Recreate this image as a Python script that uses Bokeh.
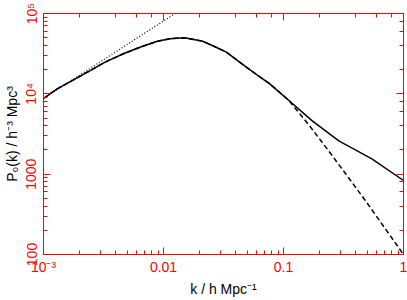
from bokeh.plotting import figure
from bokeh.models import LogAxis, Range1d
from bokeh.embed import file_html
from bokeh.resources import INLINE

# Non-linear (solid) power spectrum
k_nl = [0.001, 0.0013, 0.00178, 0.00245, 0.00326, 0.00463, 0.00636, 0.00875,
        0.0113, 0.0128, 0.015, 0.0212, 0.0266, 0.0334, 0.049, 0.0604, 0.076,
        0.111, 0.1736, 0.289, 0.545, 1.0]
P_nl = [8750, 11550, 14950, 19500, 24800, 31500, 38000, 44800,
        48400, 49300, 49800, 45200, 38800, 33000, 21500, 17150, 13500,
        8260, 4600, 2600, 1550, 834]

# Linear (dashed) power spectrum
k_lin = [0.001, 0.0013, 0.00178, 0.00245, 0.00326, 0.00463, 0.00636, 0.00875,
         0.0113, 0.0128, 0.015, 0.0212, 0.0266, 0.0334, 0.049, 0.0604, 0.076,
         0.111, 0.1346, 0.1683, 0.2541, 0.4808, 1.0]
P_lin = [8750, 11550, 14950, 19500, 24800, 31500, 38000, 44800,
         48400, 49300, 49800, 45200, 38800, 33000, 21500, 17150, 13500,
         8260, 5810, 3842, 1708, 470, 100]

# Primordial power law (dotted)
k_pl = [0.001, 0.0125]
P_pl = [8750, 100000]

x_tick_values = [0.001, 0.01, 0.1, 1]
x_tick_labels = ["10\u207b\u00b3", "0.01", "0.1", "1"]
y_tick_values = [100, 1000, 10000, 100000]
y_tick_labels = ["100", "1000", "10\u2074", "10\u2075"]

x_title = "k / h Mpc\u207b\u00b9"
y_title = "P\u2080(k) / h\u207b\u00b3 Mpc\u00b3"

RED = "#ff0000"
FONT = "Liberation Sans"

p = figure(width=407, height=300, x_axis_type="log", y_axis_type="log",
           x_range=Range1d(1e-3, 1), y_range=Range1d(100, 1e5),
           output_backend="svg", toolbar_location=None,
           min_border_left=43, min_border_right=4, min_border_top=13,
           min_border_bottom=46)
p.grid.visible = False
p.outline_line_color = RED
p.outline_line_width = 1
p.background_fill_color = "white"
p.border_fill_color = "white"

p.line(k_nl, P_nl, line_color="black", line_width=1.5)
p.line(k_lin, P_lin, line_color="black", line_width=1.5, line_dash="5 3")
p.line(k_pl, P_pl, line_color="black", line_width=1.2, line_dash="1 2")

# mirror axes drawn on the frame edges (take no panel space)
top_axis = LogAxis(fixed_location=y_tick_values[-1])
right_axis = LogAxis(fixed_location=x_tick_values[-1])
p.add_layout(top_axis, "above")
p.add_layout(right_axis, "right")


def style(ax, labels=True):
    ax.axis_line_color = RED
    ax.axis_line_width = 1
    ax.major_tick_line_color = RED
    ax.minor_tick_line_color = RED
    ax.major_tick_in = 7
    ax.major_tick_out = 0
    ax.minor_tick_in = 4
    ax.minor_tick_out = 0
    ax.major_label_text_color = RED
    ax.major_label_text_font = FONT
    ax.major_label_text_font_size = "14px"
    ax.axis_label_text_font = FONT
    ax.axis_label_text_font_size = "14px"
    ax.axis_label_text_font_style = "normal"
    ax.axis_label_text_color = "black"
    if not labels:
        ax.major_label_text_alpha = 0


xb = p.below[0]
yl = p.left[0]
style(xb)
style(yl)
style(top_axis, labels=False)
style(right_axis, labels=False)

xb.major_label_overrides = dict(zip(x_tick_values, x_tick_labels))
yl.major_label_overrides = dict(zip(y_tick_values, y_tick_labels))
yl.major_label_orientation = "vertical"
xb.major_label_standoff = 4
yl.major_label_standoff = 4
xb.axis_label = x_title
yl.axis_label = y_title
xb.axis_label_standoff = 3
yl.axis_label_standoff = 1

open("out.html", "w").write(file_html(p, INLINE))
